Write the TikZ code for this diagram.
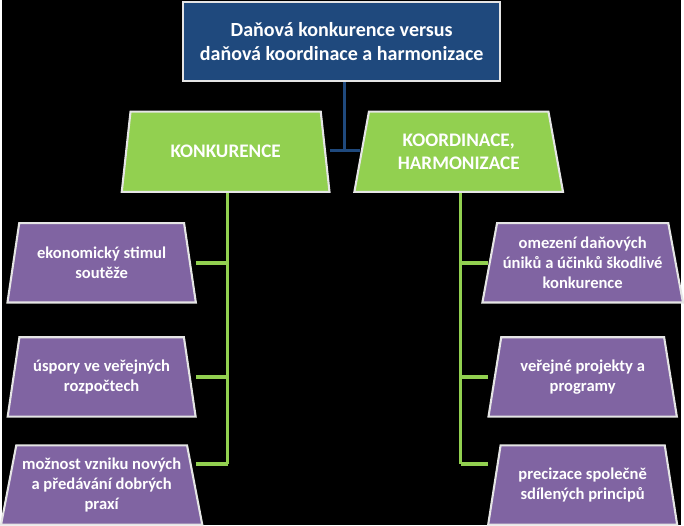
\documentclass[tikz,border=0pt]{standalone}
\usepackage{fontspec}
\setmainfont{Carlito}
\usetikzlibrary{shapes.geometric,positioning,calc}
\definecolor{topblue}{RGB}{31,73,125}
\definecolor{kgreen}{RGB}{146,208,80}
\definecolor{kpurple}{RGB}{128,100,162}
\tikzset{
  topbox/.style={draw=white!80!gray,line width=1.2pt,fill=topblue,text=white,font=\bfseries\fontsize{11.5}{13.5}\selectfont,
    minimum width=6.4cm,minimum height=1.6cm,align=center},
  headbox/.style={trapezium,trapezium stretches=true,trapezium angle=77,draw=white!80!gray,line width=1.2pt,fill=kgreen,text=white,
    font=\bfseries\fontsize{11}{13}\selectfont,minimum width=4.22cm,minimum height=1.62cm,align=center},
  itembox/.style={trapezium,trapezium stretches=true,trapezium angle=77,draw=white!80!gray,line width=1.2pt,fill=kpurple,text=white,
    font=\bfseries\fontsize{9.5}{11.5}\selectfont,minimum width=3.82cm,minimum height=1.6cm,align=center},
  blueline/.style={draw=topblue,line width=2pt},
  greenline/.style={draw=kgreen,line width=2pt}
}
\begin{document}
\begin{tikzpicture}[x=0.02cm,y=-0.02cm]
  \fill[black] (0,0) rectangle (684,529);
  \node[topbox] (top) at (342,42) {Daňová konkurence versus\\daňová koordinace a harmonizace};
  \node[headbox] (konk) at (225,153) {KONKURENCE};
  \node[headbox] (koord) at (460,153) {KOORDINACE,\\HARMONIZACE};
  % left column
  \node[itembox] (l1) at (100,265) {ekonomický stimul\\soutěže};
  \node[itembox] (l2) at (100,380) {úspory ve veřejných\\rozpočtech};
  \node[itembox] (l3) at (100,489) {možnost vzniku nových\\a předávání dobrých\\praxí};
  % right column
  \node[itembox] (r1) at (585,265) {omezení daňových\\úniků a účinků škodlivé\\konkurence};
  \node[itembox] (r2) at (585,380) {veřejné projekty a\\programy};
  \node[itembox] (r3) at (585,489) {precizace společně\\sdílených principů};
  % connectors
  \coordinate (tjoin) at (345,152);
  \draw[blueline] (top.south -| tjoin) -- (tjoin);
  \draw[blueline] ($(tjoin)+(-15,0)$) -- ($(tjoin)+(15,0)$);
  \coordinate (lend) at (227,468);
  \coordinate (rend) at (462,468);
  \draw[greenline] (konk.south -| lend) -- (lend);
  \draw[greenline] (koord.south -| rend) -- (rend);
  \foreach \y/\n in {265/1,380/2,468/3}{
    \draw[greenline] (195,\y) -- (227,\y);
    \draw[greenline] (462,\y) -- (490,\y);
  }
\end{tikzpicture}
\end{document}
